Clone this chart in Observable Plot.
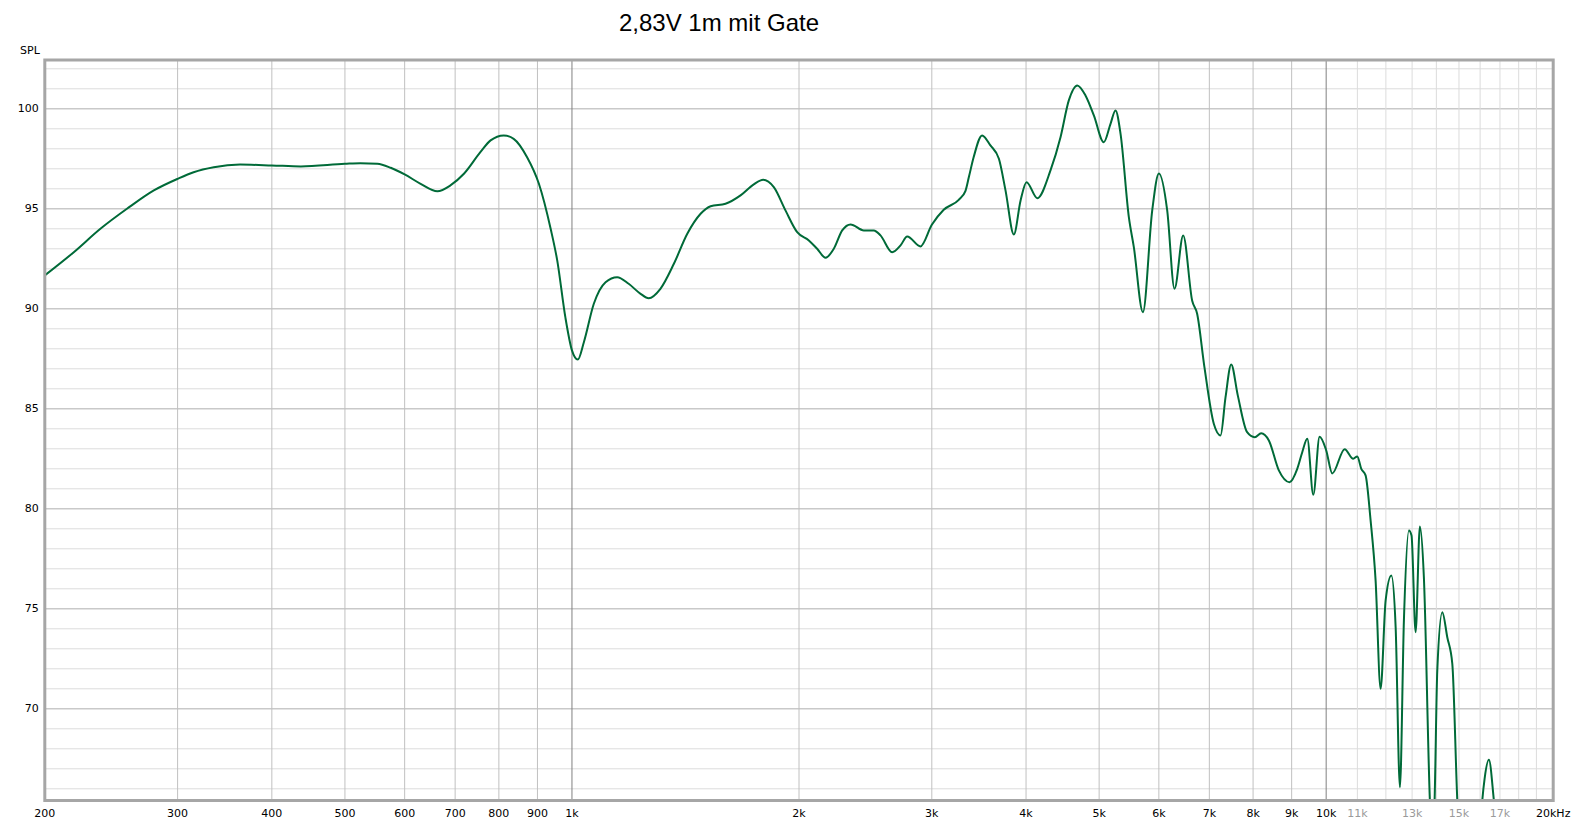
<!DOCTYPE html>
<html><head><meta charset="utf-8">
<script src="https://cdn.jsdelivr.net/npm/d3@7"></script>
<script src="https://cdn.jsdelivr.net/npm/@observablehq/plot@0.6"></script>
<style>
html,body{margin:0;padding:0;background:#fff;}
#chart svg{display:block;}
</style></head><body><div id="chart"></div>
<script>
const title = "2,83V 1m mit Gate";
const yLabel = "SPL";

const freq = [200,218.5,237,257,279,300,315,335,363,400,437,500,524,552,575,600,630,663,690,719,756,780,812,837,872,904,937,956,980,
1000,1018,1037,1069,1108,1148,1189,1233,1264,1310,1365,1422,1481,1527,1598,1673,1742,1793,1852,1919,1989,
2061,2114,2169,2224,2282,2341,2438,2513,2565,2658,2727,2783,2898,3000,3111,3257,3325,3360,3410,3498,3588,3682,3757,3854,3934,
4006,4140,4310,4444,4558,4677,4796,4920,5072,5177,5256,5338,5475,5559,5715,5880,6000,6155,6294,6463,6643,6744,6896,
7096,7244,7355,7483,7635,7856,8042,8201,8395,8655,8942,9155,9296,9440,9615,9801,10000,10188,10580,10861,10996,11132,11279,
11453,11629,11808,11991,12202,12363,12526,12679,12874,12977,13140,13313,13476,13725,13820,13924,14039,14255,14474,14698,14924,
15300,15800,16106,16220,16434,16687,17000,18000,20000];
const spl = [91.67,92.83,94.0,95.0,95.92,96.5,96.83,97.08,97.21,97.17,97.12,97.25,97.28,97.25,97.05,96.72,96.25,95.88,96.17,96.75,97.83,98.42,98.67,98.5,97.58,96.25,94.0,92.42,89.58,
87.92,87.46,88.33,90.25,91.33,91.58,91.25,90.75,90.53,91.0,92.25,93.75,94.75,95.13,95.25,95.67,96.22,96.45,96.08,94.92,93.83,
93.42,93.0,92.55,93.0,93.92,94.22,93.92,93.92,93.67,92.83,93.17,93.62,93.12,94.2,94.95,95.45,95.9,96.6,97.6,98.67,98.17,97.5,95.92,93.72,95.42,
96.33,95.53,96.92,98.58,100.42,101.17,100.67,99.67,98.33,99.25,99.92,98.75,94.58,93.08,89.83,94.92,96.77,94.92,91.0,93.67,90.4,89.75,87.08,
84.25,83.67,85.58,87.22,85.67,83.83,83.58,83.78,83.42,81.92,81.33,82.0,82.83,83.5,80.7,83.6,82.93,81.77,82.98,82.5,82.62,82.0,81.67,
79.42,76.42,71.0,75.42,76.67,74.08,66.08,74.42,78.92,78.67,73.83,79.12,76.58,65.42,63.0,65.42,71.92,74.83,73.58,72.25,65.42,
60.0,60.0,65.42,66.5,67.45,65.42,62.0,58.0,55.0];

const xTicks = [200,300,400,500,600,700,800,900,1000,2000,3000,4000,5000,6000,7000,8000,9000,10000,20000];
const xTicksFaint = [11000,13000,15000,17000];
const yTicks = [70,75,80,85,90,95,100];
const gridXMedium = [300,400,500,600,700,800,900,2000,3000,4000,5000,6000,7000,8000,9000];
const gridXDark = [1000,10000];
const gridXLight = [11000,12000,13000,14000,15000,16000,17000,18000,19000];
const gridYMinor = d3.range(66,103,1);
const gridYMajor = [70,75,80,85,90,95,100];

function fmt(f){ if (f===20000) return "20kHz"; if (f>=1000) return (f/1000)+"k"; return String(f); }
const data = freq.map((f,i)=>({f, db: spl[i]}));

const chart = Plot.plot({
  width: 1574, height: 824,
  marginLeft: 44.3, marginRight: 21.3, marginTop: 59.5, marginBottom: 24,
  style: {fontFamily: "DejaVu Sans", fontSize: "11px", background: "#fff", color: "#000"},
  x: {type: "log", domain: [200, 20000]},
  y: {domain: [65.415, 102.44]},
  marks: [
    Plot.ruleY(gridYMinor, {stroke: "#dcdcdc"}),
    Plot.ruleY(gridYMajor, {stroke: "#bdbdbd"}),
    Plot.ruleX(gridXLight, {stroke: "#dcdcdc"}),
    Plot.ruleX(gridXMedium, {stroke: "#c0c0c0"}),
    Plot.ruleX(gridXDark, {stroke: "#808080"}),
    Plot.line(data, {x: "f", y: "db", stroke: "#006a38", strokeWidth: 2, curve: "monotone-x", clip: true}),
    Plot.frame({stroke: "#a6a6a6", strokeWidth: 3}),
    Plot.axisX(xTicks, {tickSize: 0, tickPadding: 9, tickFormat: fmt, label: null}),
    Plot.axisX(xTicksFaint, {tickSize: 0, tickPadding: 9, tickFormat: fmt, fill: "#9a9a9a", label: null}),
    Plot.axisY(yTicks, {tickSize: 0, tickPadding: 6, label: null}),
    Plot.text([yLabel], {frameAnchor: "top-left", text: d => d, textAnchor: "end", dx: -5, dy: -9.5, lineAnchor: "middle"}),
    Plot.text([title], {frameAnchor: "top", text: d => d, dx: -80, dy: -37, fontSize: 24, fontFamily: "Liberation Sans", lineAnchor: "middle"})
  ]
});
document.getElementById("chart").appendChild(chart);
</script>
</body></html>
